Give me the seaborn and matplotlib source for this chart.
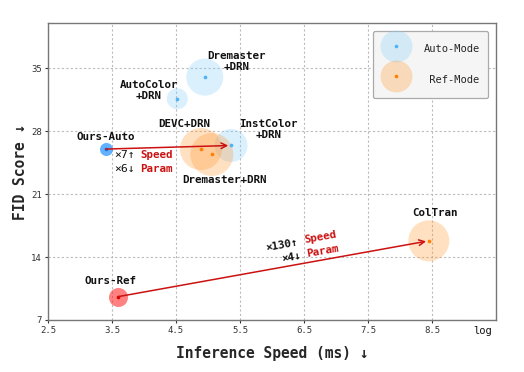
import matplotlib
matplotlib.use("Agg")
import matplotlib.pyplot as plt
import seaborn as sns
import pandas as pd
from matplotlib.lines import Line2D
from matplotlib.legend_handler import HandlerTuple

# ---- data ----
methods = ["Ours-Auto", "AutoColor+DRN", "Dremaster+DRN", "InstColor+DRN",
           "DEVC+DRN", "Dremaster+DRN", "Ours-Ref", "ColTran"]
modes = ["ours-auto", "auto", "auto", "auto", "ref", "ref", "ours-ref", "ref"]
speed = [3.4, 4.52, 4.95, 5.36, 4.89, 5.06, 3.6, 8.45]
fid = [26.0, 31.6, 34.0, 26.4, 26.0, 25.4, 9.6, 15.8]
bubble = [88, 229, 710, 565, 915, 958, 187, 871]

labels = ["Ours-Auto", "AutoColor\n+DRN", "Dremaster\n+DRN", "InstColor\n+DRN",
          "DEVC+DRN", "Dremaster+DRN", "Ours-Ref", "ColTran"]
label_x = [3.4, 4.08, 5.44, 5.94, 4.63, 5.25, 3.48, 8.55]
label_y = [27.3, 32.5, 35.7, 28.2, 28.8, 22.6, 11.3, 18.9]

xticks = [2.5, 3.5, 4.5, 5.5, 6.5, 7.5, 8.5]
yticks = [7, 14, 21, 28, 35]

df = pd.DataFrame({"method": methods, "mode": modes, "speed": speed,
                   "fid": fid, "bubble": bubble})

sns.set_style("white")
plt.rcParams["font.family"] = ["DejaVu Sans Mono", "DejaVu Sans"]

fig = plt.figure(figsize=(5.24, 3.72), dpi=100)
ax = fig.add_axes([0.0916, 0.1398, 0.855, 0.798])

fill = {"auto": ("#87CEFA", 0.30), "ref": ("#FF9933", 0.30),
        "ours-auto": ("#1E90FF", 0.70), "ours-ref": ("#FF1A1A", 0.55)}
dot = {"auto": "#4DB3F5", "ref": "#FF7F00", "ours-auto": "#1874E0",
       "ours-ref": "#E00000"}

for m in ["auto", "ref", "ours-auto", "ours-ref"]:
    sub = df[df["mode"] == m]
    col, a = fill[m]
    sns.scatterplot(data=sub, x="speed", y="fid", s=list(sub["bubble"]),
                    color=col, alpha=a, linewidth=0, ax=ax, zorder=2)
for m in ["auto", "ref", "ours-auto", "ours-ref"]:
    sub = df[df["mode"] == m]
    sns.scatterplot(data=sub, x="speed", y="fid", s=7, color=dot[m],
                    linewidth=0, ax=ax, zorder=4)

for t, lx, ly in zip(labels, label_x, label_y):
    ax.text(lx, ly, t, ha="center", va="center", fontsize=7.8,
            fontweight="bold", color="#111111", zorder=5, linespacing=1.15)

red = "#CC1111"
# arrows
ax.annotate("", xy=(speed[3], fid[3]), xytext=(speed[0], fid[0]),
            arrowprops=dict(arrowstyle="->", color=red, lw=1.1,
                            shrinkA=0, shrinkB=2), zorder=6)
ax.annotate("", xy=(speed[7], fid[7]), xytext=(speed[6], fid[6]),
            arrowprops=dict(arrowstyle="->", color=red, lw=1.1,
                            shrinkA=0, shrinkB=2), zorder=6)

# annotations
ax.text(3.53, 25.3, "×7↑", ha="left", va="center", fontsize=8.2, color="#111111")
ax.text(3.94, 25.3, "Speed", ha="left", va="center", fontsize=7.8,
        fontweight="bold", color=red)
ax.text(3.53, 23.8, "×6↓", ha="left", va="center", fontsize=8.2, color="#111111")
ax.text(3.94, 23.8, "Param", ha="left", va="center", fontsize=7.8,
        fontweight="bold", color=red)

rot = 10
ax.text(6.16, 15.33, "×130↑", ha="center", va="center", fontsize=7.8,
        fontweight="bold", color="#111111", rotation=rot)
ax.text(6.75, 16.2, "Speed", ha="center", va="center", fontsize=7.8,
        fontweight="bold", color=red, rotation=rot)
ax.text(6.30, 14.0, "×4↓", ha="center", va="center", fontsize=7.8,
        fontweight="bold", color="#111111", rotation=rot)
ax.text(6.79, 14.67, "Param", ha="center", va="center", fontsize=7.8,
        fontweight="bold", color=red, rotation=rot)

ax.set_xlim(2.5, 9.5)
ax.set_ylim(7, 40)
ax.set_xticks(xticks)
ax.set_yticks(yticks)
ax.set_xticklabels([str(v) for v in xticks])
ax.set_yticklabels([str(v) for v in yticks])
ax.tick_params(axis="both", labelsize=6.5, colors="#333333", length=2.5,
               width=0.8, direction="out", left=True, bottom=True, pad=2)
ax.grid(True, linestyle=(0, (2, 2)), color="#BBBBBB", linewidth=0.8, zorder=0)
ax.set_axisbelow(True)
for s in ax.spines.values():
    s.set_color("#777777")
    s.set_linewidth(1.0)

ax.text(0.969, -0.037, "log", transform=ax.transAxes, ha="center", va="center",
        fontsize=7.5, color="#111111")

ax.set_xlabel("Inference Speed (ms) ↓", fontsize=10.5, fontweight="bold",
              labelpad=8)
ax.set_ylabel("FID Score ↓", fontsize=10.5, fontweight="bold", labelpad=2.5)

h_auto = (Line2D([], [], marker="o", ls="", markersize=23, markerfacecolor="#87CEFA",
                 alpha=0.3, markeredgewidth=0),
          Line2D([], [], marker="o", ls="", markersize=2.6, color=dot["auto"],
                 markeredgewidth=0))
h_ref = (Line2D([], [], marker="o", ls="", markersize=23, markerfacecolor="#FF9933",
                alpha=0.3, markeredgewidth=0),
         Line2D([], [], marker="o", ls="", markersize=2.6, color=dot["ref"],
                markeredgewidth=0))
leg = ax.legend([h_auto, h_ref], ["Auto-Mode", " Ref-Mode"],
                handler_map={tuple: HandlerTuple(ndivide=1, pad=0)},
                loc="upper right", bbox_to_anchor=(0.982, 0.973),
                borderaxespad=0, fontsize=7.5, labelspacing=1.05,
                handlelength=2.8, handleheight=2.5, handletextpad=1.2,
                borderpad=0.8, frameon=True, fancybox=True,
                facecolor="#F5F5F5", edgecolor="#AAAAAA", framealpha=1.0)
leg.get_frame().set_linewidth(0.9)

fig.savefig("out.png", dpi=100)
